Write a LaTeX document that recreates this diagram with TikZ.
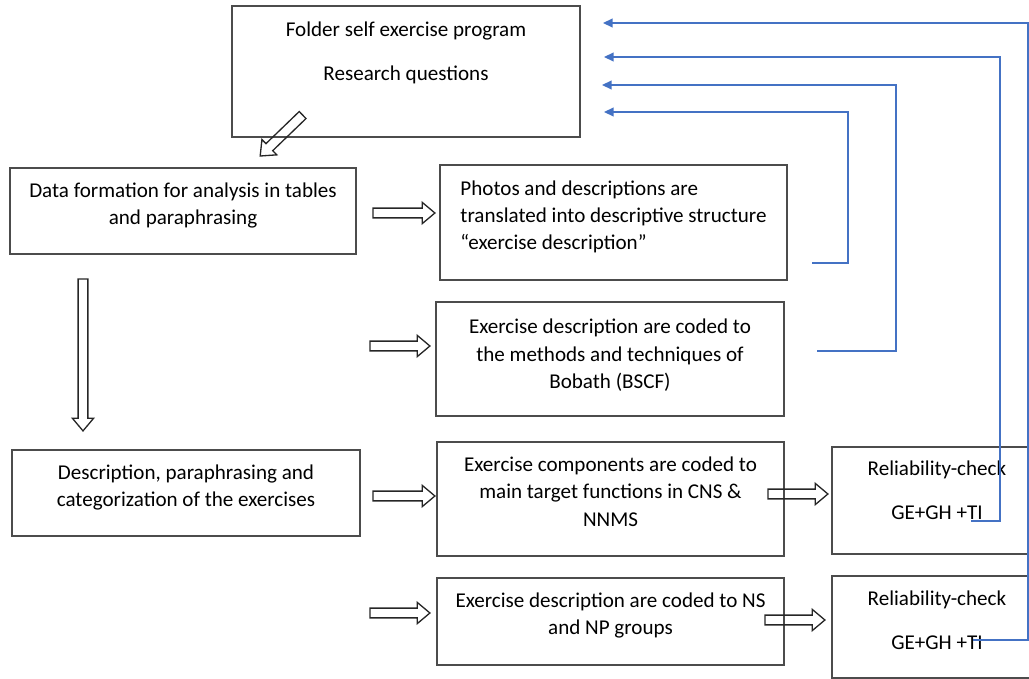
\documentclass[tikz,border=0pt]{standalone}
\usepackage{fontspec}
\setmainfont{Carlito}
\usepackage{tikz}
\usetikzlibrary{shapes,arrows.meta,positioning,calc}
\definecolor{fbblue}{HTML}{4472C4}

\begin{document}
\begin{tikzpicture}[
    x=0.02cm,
    y=-0.02cm,
    box/.style={
        rectangle,
        draw=black!70,
        line width=0.8pt,
        align=center,
        font=\fontsize{12}{15.5}\selectfont
    },
    hollow/.style={
        single arrow,
        draw=black!85,
        line width=0.75pt,
        inner xsep=0pt,
        inner ysep=2.4pt,
        single arrow head extend=3.3pt,
        single arrow tip angle=80,
        minimum height=#1
    },
    fb/.style={
        draw=fbblue,
        line width=0.9pt,
        -{Triangle[length=5.5pt,width=5pt]}
    }
]
\useasboundingbox (0,0) rectangle (1029,679);

% Boxes
\node [box, minimum width=6.96cm, minimum height=2.62cm, text depth=23pt] (folder) at (406,71.5)
    {Folder self exercise program\\[9.7pt]Research questions};
\node [box, minimum width=6.92cm, minimum height=1.72cm, text depth=8pt] (formation) at (183,211)
    {Data formation for analysis in tables\\and paraphrasing};
\node [box, align=left, minimum width=6.94cm, minimum height=2.3cm, text depth=8.5pt] (photos) at (613.5,222.5)
    {Photos and descriptions are\\translated into descriptive structure\\“exercise description”};
\node [box, minimum width=6.96cm, minimum height=2.28cm, text depth=6pt] (bobath) at (610,359)
    {Exercise description are coded to\\the methods and techniques of\\Bobath (BSCF)};
\node [box, minimum width=6.96cm, minimum height=1.72cm, text depth=8pt] (describe) at (186,493)
    {Description, paraphrasing and\\categorization of the exercises};
\node [box, minimum width=6.94cm, minimum height=2.28cm, text depth=8.5pt] (target) at (610.5,499)
    {Exercise components are coded to\\main target functions in CNS \&\\NNMS};
\node [box, minimum width=6.94cm, minimum height=1.74cm, text depth=9pt] (groups) at (610.5,621.5)
    {Exercise description are coded to NS\\and NP groups};
\node [box, minimum width=4.2cm, minimum height=2.14cm, text depth=11.4pt] (checkA) at (937,500.5)
    {Reliability-check\\[9.7pt]GE+GH +TI};
\node [box, minimum width=4.2cm, minimum height=2.04cm, text depth=8pt] (checkB) at (937,627)
    {Reliability-check\\[9.7pt]GE+GH +TI};

% Hollow arrows
\node [hollow=1.18cm, rotate=-136] (toform) at (283.5,133.5) {};
\node [hollow=3.04cm, rotate=-90] (todesc) at (83,352) {};
\node [hollow=1.24cm] (tophotos) at (401,213) {};
\node [hollow=1.2cm] (tobobath) at (397,346) {};
\node [hollow=1.24cm] (totarget) at (401,496) {};
\node [hollow=1.2cm] (togroups) at (397,613) {};
\node [hollow=1.2cm] (tocheckA) at (795,494) {};
\node [hollow=1.2cm] (tocheckB) at (792,620) {};

% Feedback ends
\coordinate (s1) at (973,640);
\coordinate (s2) at (971,521);
\coordinate (s3) at (817,351);
\coordinate (s4) at (812,263);
\coordinate (t1) at (603,23);
\coordinate (t2) at (604,57);
\coordinate (t3) at (602,85);
\coordinate (t4) at (604,112);

% Feedback lines
\path [fb] (s1) -- ++(55,0) |- (t1);
\path [fb] (s2) -- ++(29,0) |- (t2);
\path [fb] (s3) -- ++(79,0) |- (t3);
\path [fb] (s4) -- ++(36,0) |- (t4);

\end{tikzpicture}
\end{document}
